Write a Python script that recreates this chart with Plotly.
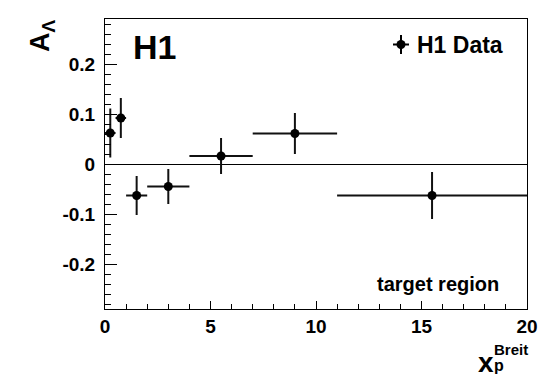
import plotly.graph_objects as go

# Data
x_center = [0.25, 0.75, 1.5, 3.0, 5.5, 9.0, 15.5]
x_halfwidth = [0.25, 0.25, 0.5, 1.0, 1.5, 2.0, 4.5]
asym = [0.062, 0.092, -0.063, -0.045, 0.016, 0.061, -0.063]
asym_err = [0.049, 0.040, 0.039, 0.035, 0.036, 0.041, 0.047]

y_tickvals = [-0.2, -0.1, 0, 0.1, 0.2]
y_ticktext = ["-0.2", "-0.1", "0", "0.1", "0.2"]
x_tickvals = [0, 5, 10, 15, 20]
x_ticktext = ["0", "5", "10", "15", "20"]

W, H = 555, 377
L, R, T, B = 105, 527, 19, 309

def px(v):
    return (v - L) / (R - L)

def py(v):
    return (B - v) / (B - T)

FONT = "Liberation Sans"

fig = go.Figure()
fig.add_trace(go.Scatter(
    x=x_center, y=asym, mode="markers",
    marker=dict(color="black", size=9),
    error_y=dict(type="data", array=asym_err, visible=True, thickness=2, width=0, color="#111"),
    error_x=dict(type="data", array=x_halfwidth, visible=True, thickness=2, width=0, color="#111"),
    showlegend=False,
))

fig.update_layout(
    width=W, height=H,
    margin=dict(l=L, r=W - R, t=T, b=H - B, pad=0),
    paper_bgcolor="white", plot_bgcolor="white",
    font=dict(family=FONT, color="black"),
    xaxis=dict(
        range=[0, 20], showgrid=False, zeroline=False,
        showline=True, linecolor="black", linewidth=1, mirror=True,
        ticks="inside", ticklen=8, tickcolor="black",
        tickvals=x_tickvals, ticktext=x_ticktext,
        tickfont=dict(family=FONT, size=19, weight="bold"),
        minor=dict(dtick=1, ticklen=5, ticks="inside", tickcolor="black"),
    ),
    yaxis=dict(
        range=[-0.29, 0.29], showgrid=False,
        zeroline=True, zerolinecolor="black", zerolinewidth=1,
        showline=True, linecolor="black", linewidth=1, mirror=True,
        ticks="inside", ticklen=12, tickcolor="black",
        tickvals=y_tickvals, ticktext=y_ticktext,
        tickfont=dict(family=FONT, size=19, weight="bold"),
        ticklabelstandoff=5,
        minor=dict(tick0=0, dtick=0.02, ticklen=6, ticks="inside", tickcolor="black"),
    ),
)

ann = []
ann.append(dict(text="H1", x=px(154), y=py(47), xref="paper", yref="paper",
                xanchor="center", yanchor="middle", showarrow=False,
                font=dict(family=FONT, size=34, weight="bold")))
ann.append(dict(text="H1 Data", x=px(415), y=py(45), xref="paper", yref="paper",
                xanchor="left", yanchor="middle", showarrow=False,
                font=dict(family=FONT, size=23, weight="bold")))
ann.append(dict(text="target region", x=px(501), y=py(284), xref="paper", yref="paper",
                xanchor="right", yanchor="middle", showarrow=False,
                font=dict(family=FONT, size=20, weight="bold")))
ann.append(dict(text="A<sub>Λ</sub>", x=px(42), y=py(36), xref="paper", yref="paper",
                xanchor="center", yanchor="middle", showarrow=False, textangle=-90,
                font=dict(family=FONT, size=27, weight="bold")))
ann.append(dict(text="x", x=px(476), y=py(362), xref="paper", yref="paper",
                xanchor="left", yanchor="middle", showarrow=False,
                font=dict(family=FONT, size=28, weight="bold")))
ann.append(dict(text="Breit", x=px(492), y=py(349), xref="paper", yref="paper",
                xanchor="left", yanchor="middle", showarrow=False,
                font=dict(family=FONT, size=15, weight="bold")))
ann.append(dict(text="p", x=px(492), y=py(365), xref="paper", yref="paper",
                xanchor="left", yanchor="middle", showarrow=False,
                font=dict(family=FONT, size=16, weight="bold")))
fig.update_layout(annotations=ann)

# legend icon
shapes = [
    dict(type="line", xref="paper", yref="paper", x0=px(401), x1=px(401), y0=py(35), y1=py(54),
         line=dict(color="black", width=2)),
    dict(type="line", xref="paper", yref="paper", x0=px(393), x1=px(409), y0=py(44.5), y1=py(44.5),
         line=dict(color="black", width=2)),
    dict(type="circle", xref="paper", yref="paper", x0=px(396.5), x1=px(405.5), y0=py(40), y1=py(49),
         fillcolor="black", line=dict(color="black", width=0)),
]
fig.update_layout(shapes=shapes)

fig.write_html("out.html", config={"displayModeBar": False},
               post_script="document.body.style.margin='0';document.body.style.overflow='hidden';")
